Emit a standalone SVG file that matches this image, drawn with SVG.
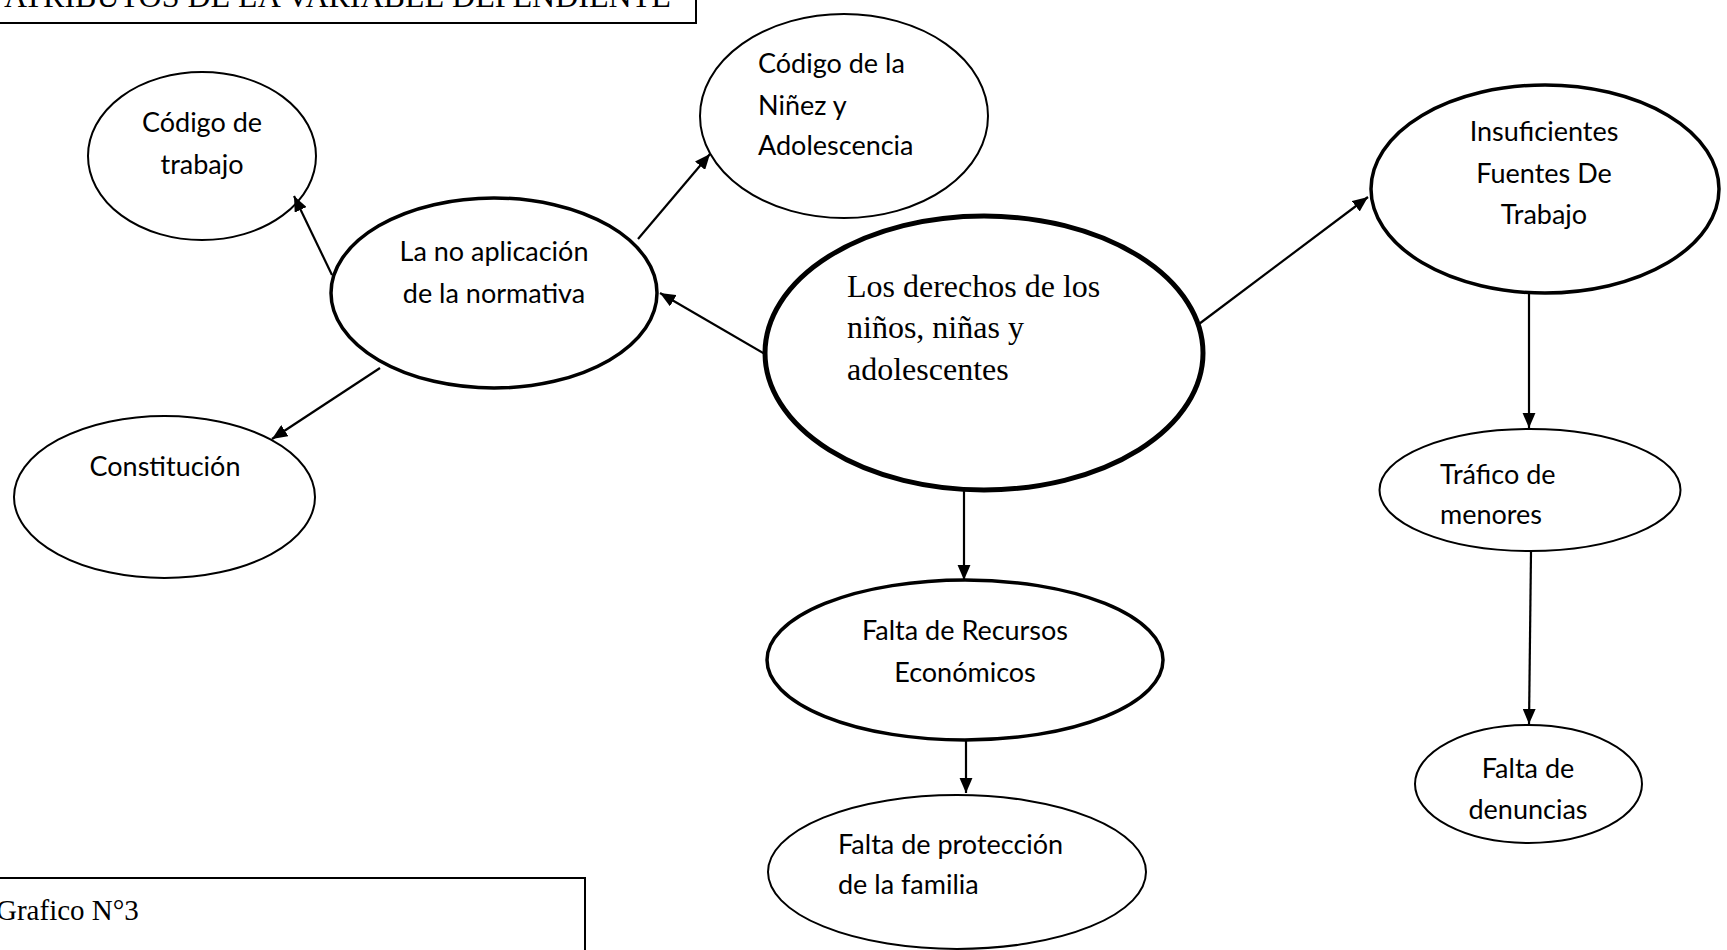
<svg xmlns="http://www.w3.org/2000/svg" width="1727" height="950" viewBox="0 0 1727 950">
<style>
.n{fill:#fff;stroke:#000;stroke-width:2}
.t3{stroke-width:3.5}
.t5{stroke-width:5}
.c{font-family:Lato,"Open Sans",sans-serif;font-size:27px;fill:#000}
.m{text-anchor:middle}
.tm{font-family:"Liberation Serif","Times New Roman",serif;fill:#000}
.e{stroke:#000;stroke-width:2.2;fill:none;marker-end:url(#ah)}
</style>
<defs>
<marker id="ah" viewBox="0 0 10 8.6" refX="10" refY="4.3" markerWidth="7" markerHeight="6" markerUnits="strokeWidth" orient="auto">
<path d="M0,0 L10,4.3 L0,8.6 z" fill="#000"/>
</marker>
</defs>
<rect width="1727" height="950" fill="#fff"/>
<g id="title">
<rect x="-5" y="-20" width="701" height="43" fill="#fff" stroke="#000" stroke-width="2"/>
<text class="tm" x="4" y="7" font-size="32">ATRIBUTOS DE LA VARIABLE DEPENDIENTE</text>
</g>
<g id="caption">
<rect x="-5" y="878" width="590" height="90" fill="#fff" stroke="#000" stroke-width="2"/>
<text class="tm" x="-4" y="920" font-size="29">Grafico N°3</text>
</g>
<g id="codigo-trabajo">
<ellipse class="n" cx="202" cy="156" rx="114" ry="84"/>
<text class="c m" x="202" y="132">Código de</text>
<text class="c m" x="202" y="174">trabajo</text>
</g>
<g id="no-aplicacion">
<ellipse class="n t3" cx="494" cy="293" rx="163" ry="95"/>
<text class="c m" x="494" y="261">La no aplicación</text>
<text class="c m" x="494" y="303">de la normativa</text>
</g>
<g id="codigo-ninez">
<ellipse class="n" cx="844" cy="116" rx="144" ry="102"/>
<text class="c" x="758" y="73">Código de la</text>
<text class="c" x="758" y="115">Niñez y</text>
<text class="c" x="758" y="155">Adolescencia</text>
</g>
<g id="constitucion">
<ellipse class="n" cx="164.5" cy="497" rx="150.5" ry="81"/>
<text class="c m" x="165" y="476">Constitución</text>
</g>
<g id="derechos">
<ellipse class="n t5" cx="984" cy="353" rx="219" ry="137"/>
<text class="tm" x="847" y="297" font-size="32">Los derechos de los</text>
<text class="tm" x="847" y="338" font-size="32">niños, niñas y</text>
<text class="tm" x="847" y="380" font-size="32">adolescentes</text>
</g>
<g id="insuficientes">
<ellipse class="n t3" cx="1545" cy="189" rx="174" ry="104"/>
<text class="c m" x="1544" y="141">Insuficientes</text>
<text class="c m" x="1544" y="183">Fuentes De</text>
<text class="c m" x="1544" y="224">Trabajo</text>
</g>
<g id="trafico">
<ellipse class="n" cx="1530" cy="490" rx="150.5" ry="61"/>
<text class="c" x="1440" y="484">Tráfico de</text>
<text class="c" x="1440" y="524">menores</text>
</g>
<g id="denuncias">
<ellipse class="n" cx="1528.5" cy="784" rx="113.5" ry="59"/>
<text class="c m" x="1528" y="778">Falta de</text>
<text class="c m" x="1528" y="819">denuncias</text>
</g>
<g id="recursos">
<ellipse class="n t3" cx="965" cy="660" rx="198" ry="80"/>
<text class="c m" x="965" y="640">Falta de Recursos</text>
<text class="c m" x="965" y="682">Económicos</text>
</g>
<g id="proteccion">
<ellipse class="n" cx="957" cy="872" rx="189" ry="77"/>
<text class="c" x="838" y="854">Falta de protección</text>
<text class="c" x="838" y="894">de la familia</text>
</g>
<g id="connectors">
<line class="e" x1="765" y1="354" x2="660" y2="293"/>
<line class="e" x1="332" y1="275" x2="294" y2="196"/>
<line class="e" x1="638" y1="239" x2="710" y2="154"/>
<line class="e" x1="380" y1="368" x2="272" y2="439"/>
<line class="e" x1="1199" y1="324" x2="1368" y2="197"/>
<line class="e" x1="1529" y1="293" x2="1529" y2="428"/>
<line class="e" x1="1531" y1="552" x2="1529" y2="724"/>
<line class="e" x1="964" y1="491" x2="964" y2="580"/>
<line class="e" x1="966" y1="740" x2="966" y2="793"/>
</g>
</svg>
